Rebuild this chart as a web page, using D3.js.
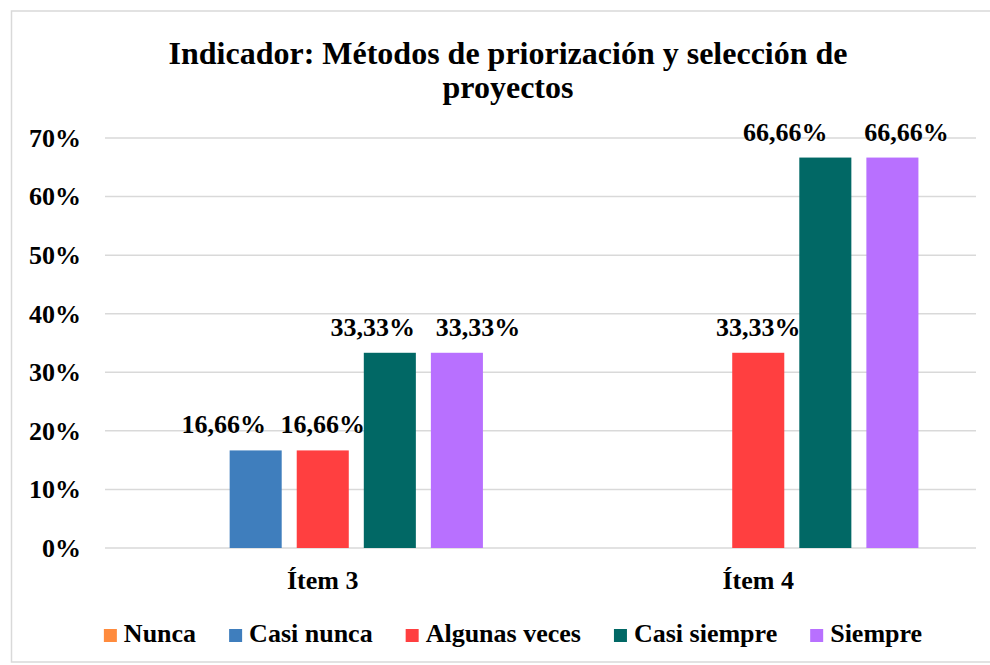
<!DOCTYPE html>
<html>
<head>
<meta charset="utf-8">
<script src="https://cdn.jsdelivr.net/npm/d3@7/dist/d3.min.js"></script>
<style>
  body { margin: 0; background: #fff; }
  text { font-family: "Liberation Serif", "Times New Roman", serif; font-weight: bold; fill: #000; }
</style>
</head>
<body>
<div id="chart-area"></div>
<script>
// data
var items = ["Ítem 3", "Ítem 4"];
var series = ["Nunca", "Casi nunca", "Algunas veces", "Casi siempre", "Siempre"];
var nunca = [0, 0];
var casiNunca = [0.1666, 0];
var algunasVeces = [0.1666, 0.3333];
var casiSiempre = [0.3333, 0.6666];
var siempre = [0.3333, 0.6666];
var yTicks = [0, 0.1, 0.2, 0.3, 0.4, 0.5, 0.6, 0.7];

var colors = ["#ff8b3d", "#3f7ebd", "#ff3f40", "#016865", "#b870ff"];
// manual nudges of the value labels (as in the original), per item / series
var labelDx = [[0, -32, 0, -17, 21], [0, 0, 0, -40, 14]];

var values = [nunca, casiNunca, algunasVeces, casiSiempre, siempre];

var W = 990, H = 665;
var margin = {left: 105, right: 14, top: 138, bottom: 117};

var svg = d3.select("#chart-area").append("svg")
    .attr("width", W).attr("height", H);

// outer frame
svg.append("rect")
    .attr("x", 11.5).attr("y", 11)
    .attr("width", 1000).attr("height", 651)
    .attr("fill", "none").attr("stroke", "#d9d9d9").attr("stroke-width", 1.5);

// title
var title = svg.append("text")
    .attr("x", 508).attr("y", 64)
    .attr("text-anchor", "middle")
    .attr("font-size", "32px");
title.append("tspan").attr("x", 508).text("Indicador: Métodos de priorización y selección de");
title.append("tspan").attr("x", 508).attr("dy", 34).text("proyectos");

// scales
var x0 = d3.scaleBand()
    .domain(items)
    .range([margin.left, W - margin.right])
    .paddingInner(0.2644)
    .paddingOuter(0.1322);

var x1 = d3.scaleBand()
    .domain(series)
    .range([0, x0.bandwidth()])
    .paddingInner(0.224);

var y = d3.scaleLinear()
    .domain([0, 0.7])
    .range([H - margin.bottom, margin.top]);

// gridlines
svg.append("g").selectAll("line")
    .data(yTicks)
    .enter().append("line")
        .attr("x1", margin.left).attr("x2", W - margin.right)
        .attr("y1", function(d){ return y(d); })
        .attr("y2", function(d){ return y(d); })
        .attr("stroke", "#d9d9d9").attr("stroke-width", 1.5);

// y axis labels
var yAxisCall = d3.axisLeft(y)
    .tickValues(yTicks)
    .tickSize(0)
    .tickPadding(0)
    .tickFormat(function(d){ return Math.round(d * 100) + "%"; });

var yAxis = svg.append("g")
    .attr("transform", "translate(81,0)")
    .call(yAxisCall);
yAxis.select(".domain").remove();
yAxis.selectAll("text")
    .attr("font-size", "26px")
    .attr("font-family", null);

// bars
var rows = [];
items.forEach(function(item, i){
    series.forEach(function(s, j){
        rows.push({item: item, series: s, i: i, j: j, value: values[j][i]});
    });
});

svg.append("g").selectAll("rect")
    .data(rows.filter(function(d){ return d.value > 0; }))
    .enter().append("rect")
        .attr("x", function(d){ return x0(d.item) + x1(d.series); })
        .attr("y", function(d){ return y(d.value); })
        .attr("width", x1.bandwidth())
        .attr("height", function(d){ return y(0) - y(d.value); })
        .attr("fill", function(d){ return colors[d.j]; });

// value labels
svg.append("g").selectAll("text")
    .data(rows.filter(function(d){ return d.value > 0; }))
    .enter().append("text")
        .attr("x", function(d){
            return x0(d.item) + x1(d.series) + x1.bandwidth() / 2 + labelDx[d.i][d.j];
        })
        .attr("y", function(d){ return y(d.value) - 17; })
        .attr("text-anchor", "middle")
        .attr("font-size", "26px")
        .text(function(d){ return (d.value * 100).toFixed(2).replace(".", ",") + "%"; });

// category labels
svg.append("g").selectAll("text")
    .data(items)
    .enter().append("text")
        .attr("x", function(d){ return x0(d) + x0.bandwidth() / 2; })
        .attr("y", 589)
        .attr("text-anchor", "middle")
        .attr("font-size", "26px")
        .text(function(d){ return d; });

// legend
var legend = svg.append("g");
var lx = 0;
series.forEach(function(s, j){
    var row = legend.append("g").attr("transform", "translate(" + lx + ",0)");
    row.append("rect")
        .attr("x", 0).attr("y", -13)
        .attr("width", 13).attr("height", 13)
        .attr("fill", colors[j]);
    var t = row.append("text")
        .attr("x", 20).attr("y", 0)
        .attr("font-size", "26px")
        .text(s);
    lx += 20 + t.node().getComputedTextLength() + 33;
});
var legendWidth = lx - 33;
legend.attr("transform", "translate(" + (513 - legendWidth / 2) + ",642)");
</script>
</body>
</html>
